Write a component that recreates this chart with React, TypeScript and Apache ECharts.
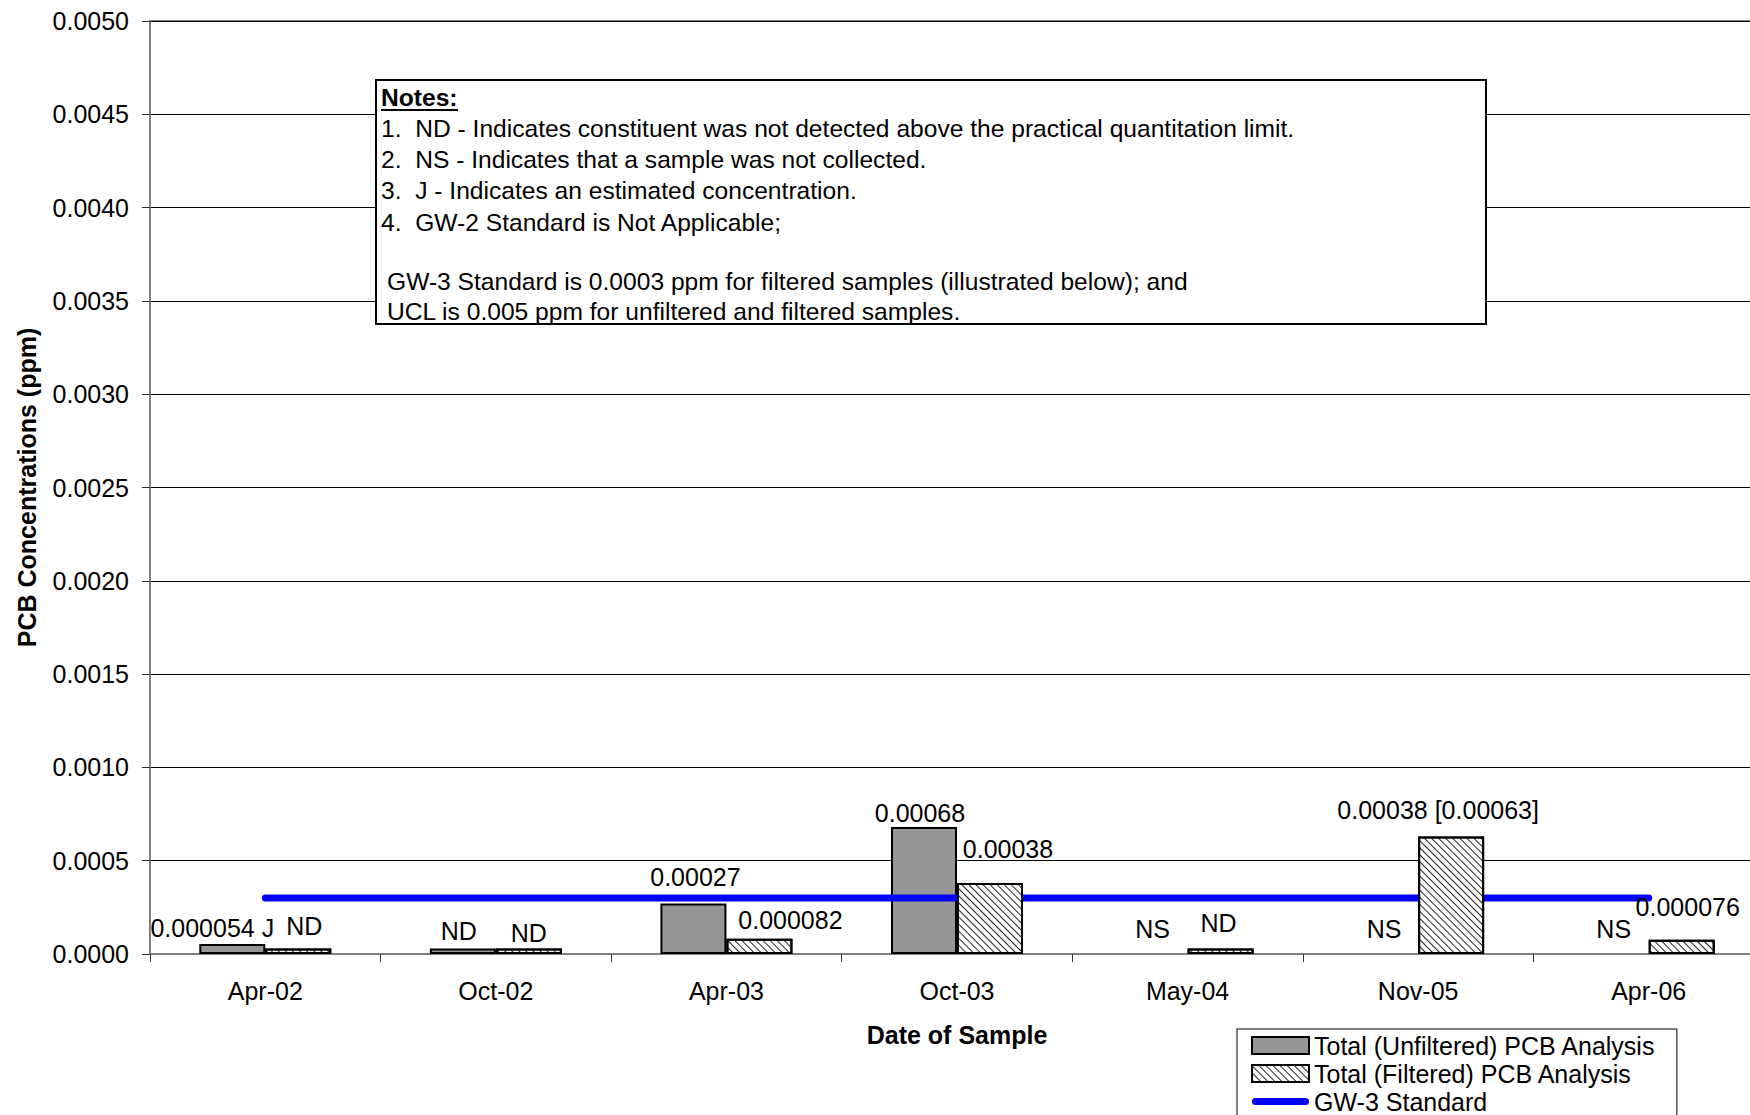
import React, { useEffect, useRef } from "react";
import * as echarts from "echarts";

const categories = ["Apr-02", "Oct-02", "Apr-03", "Oct-03", "May-04", "Nov-05", "Apr-06"];
// null = NS (sample not collected)
const unfilteredValues = [0.000054, 0.00003, 0.00027, 0.00068, null, null, null];
const filteredValues = [0.00003, 0.00003, 0.000082, 0.00038, 0.00003, 0.00063, 0.000076];
const gw3Standard = [0.0003, 0.0003, 0.0003, 0.0003, 0.0003, 0.0003, 0.0003];
const unfilteredLabels = ["0.000054 J", "ND", "0.00027", "0.00068", "NS", "NS", "NS"];
const filteredLabels = ["ND", "ND", "0.000082", "0.00038", "ND", "0.00038 [0.00063]", "0.000076"];
const seriesNames = ["Total (Unfiltered) PCB Analysis", "Total (Filtered) PCB Analysis", "GW-3 Standard"];
const yTicks = { min: 0, max: 0.005, interval: 0.0005 };
const noteTitle = "Notes:";
const noteLines = [
  "1.  ND - Indicates constituent was not detected above the practical quantitation limit.",
  "2.  NS - Indicates that a sample was not collected.",
  "3.  J - Indicates an estimated concentration.",
  "4.  GW-2 Standard is Not Applicable;",
];
const noteFooter = [
  "GW-3 Standard is 0.0003 ppm for filtered samples (illustrated below); and",
  "UCL is 0.005 ppm for unfiltered and filtered samples.",
];

const FONT = "'Liberation Sans', Arial, sans-serif";
const CW = 1780; // inner chart width (plot runs past the visible right edge)
const CH = 1200; // inner chart height (legend runs past the visible bottom edge)

// label nudges (style only)
const unfilteredOffsets = [[-20, 2], [-4, 0], [2, -9], [-4, 3], [-2, -8], [-1, -8], [-2, -8]];
const filteredOffsets = [[6, -5], [0, 2], [31, -1], [18, -17], [-2, -8], [-13, -9], [6, -15]];

export default function App() {
  const ref = useRef<HTMLDivElement>(null);
  useEffect(() => {
    if (!ref.current) return;
    const chart = echarts.init(ref.current, undefined, { renderer: "svg" });

    const unfData = unfilteredValues.map((v, i) => ({
      value: v === null ? 0 : v,
      itemStyle: v === null ? { borderWidth: 0, color: "transparent" } : undefined,
      label: { offset: unfilteredOffsets[i] },
    }));
    const filData = filteredValues.map((v, i) => ({
      value: v,
      label: { offset: filteredOffsets[i] },
    }));

    const labelStyle = {
      show: true,
      position: "top",
      distance: 5,
      fontSize: 25,
      color: "#000",
      fontFamily: FONT,
    };

    const noteX = 381;
    const noteFont = `24.6px ${FONT}`;
    const graphicEls: any[] = [
      {
        type: "rect",
        shape: { x: 376, y: 80, width: 1110, height: 244 },
        style: { fill: "#fff", stroke: "#000", lineWidth: 2 },
        z: 100,
      },
      {
        type: "text",
        x: noteX,
        y: 97,
        style: {
          text: noteTitle,
          font: `bold 24.6px ${FONT}`,
          fill: "#000",
          verticalAlign: "middle",
        },
        z: 101,
      },
      {
        type: "line",
        shape: { x1: noteX, y1: 110, x2: noteX + 77, y2: 110 },
        style: { stroke: "#000", lineWidth: 2 },
        z: 101,
      },
    ];
    const lineYs = [128, 159, 190, 222];
    noteLines.forEach((t, i) => {
      graphicEls.push({
        type: "text",
        x: noteX,
        y: lineYs[i],
        style: { text: t, font: noteFont, fill: "#000", verticalAlign: "middle" },
        z: 101,
      });
    });
    const footYs = [281, 311];
    noteFooter.forEach((t, i) => {
      graphicEls.push({
        type: "text",
        x: 387,
        y: footYs[i],
        style: { text: t, font: noteFont, fill: "#000", verticalAlign: "middle" },
        z: 101,
      });
    });

    chart.setOption({
      animation: false,
      textStyle: { fontFamily: FONT },
      grid: {
        left: 150,
        top: 21,
        right: CW - 1764,
        bottom: CH - 954,
        show: true,
        borderColor: "#808080",
        borderWidth: 2,
        backgroundColor: "transparent",
      },
      legend: {
        orient: "vertical",
        left: 1237,
        top: 1029,
        padding: [4, 21, 6, 14],
        itemWidth: 57,
        itemHeight: 17,
        itemGap: 3,
        borderColor: "#555",
        borderWidth: 1.5,
        selectedMode: false,
        textStyle: { fontSize: 25, color: "#000", fontFamily: FONT },
        data: [
          { name: seriesNames[0], icon: "rect" },
          { name: seriesNames[1], icon: "rect" },
          {
            name: seriesNames[2],
            icon: "path://M3.5,0 L53.5,0 A3.5,3.5 0 0 1 53.5,7 L3.5,7 A3.5,3.5 0 0 1 3.5,0 Z",
            itemStyle: { color: "#0000ff", borderWidth: 0 },
          },
        ],
      },
      xAxis: {
        type: "category",
        data: categories,
        name: "Date of Sample",
        nameLocation: "middle",
        nameGap: 68,
        nameTextStyle: { fontSize: 25, fontWeight: "bold", color: "#000", fontFamily: FONT },
        axisLine: { lineStyle: { color: "#808080", width: 2 } },
        axisTick: { show: true, length: 8, lineStyle: { color: "#333" } },
        axisLabel: { fontSize: 25, color: "#000", margin: 24, fontFamily: FONT },
      },
      yAxis: {
        type: "value",
        min: yTicks.min,
        max: yTicks.max,
        interval: yTicks.interval,
        name: "PCB Concentrations (ppm)",
        nameLocation: "middle",
        nameGap: 111,
        nameTextStyle: { fontSize: 25, fontWeight: "bold", color: "#000", fontFamily: FONT },
        axisLine: { show: true, lineStyle: { color: "#808080", width: 2 } },
        axisTick: { show: true, length: 8, lineStyle: { color: "#333" } },
        axisLabel: {
          fontSize: 25,
          color: "#000",
          margin: 21,
          fontFamily: FONT,
          formatter: (v: number) => v.toFixed(4),
        },
        splitLine: { show: true, lineStyle: { color: "#000", width: 1 } },
      },
      series: [
        {
          name: seriesNames[0],
          type: "bar",
          z: 2,
          barWidth: 66,
          barGap: "0%",
          data: unfData,
          itemStyle: { color: "#969696", borderColor: "#000", borderWidth: 2 },
          label: { ...labelStyle, formatter: (p: any) => unfilteredLabels[p.dataIndex] },
        },
        {
          name: seriesNames[1],
          type: "bar",
          z: 4,
          barWidth: 66,
          barGap: "0%",
          data: filData,
          itemStyle: {
            color: "#fff",
            borderColor: "#000",
            borderWidth: 2,
            decal: {
              symbol: "rect",
              symbolSize: 1,
              dashArrayX: [1, 0],
              dashArrayY: [1, 3.8],
              rotation: Math.PI / 4,
              color: "#222",
              backgroundColor: "#fff",
            },
          },
          label: { ...labelStyle, formatter: (p: any) => filteredLabels[p.dataIndex] },
        },
        {
          name: seriesNames[2],
          type: "line",
          z: 3,
          data: gw3Standard,
          symbol: "none",
          lineStyle: { color: "#0000ff", width: 7, cap: "round" },
          itemStyle: { color: "#0000ff" },
        },
      ],
      graphic: graphicEls,
    });
    return () => chart.dispose();
  }, []);
  return (
    <div
      style={{
        position: "absolute",
        left: 0,
        top: 0,
        width: 1750,
        height: 1115,
        overflow: "hidden",
        background: "#fff",
      }}
    >
      <div ref={ref} style={{ width: CW, height: CH }} />
    </div>
  );
}
